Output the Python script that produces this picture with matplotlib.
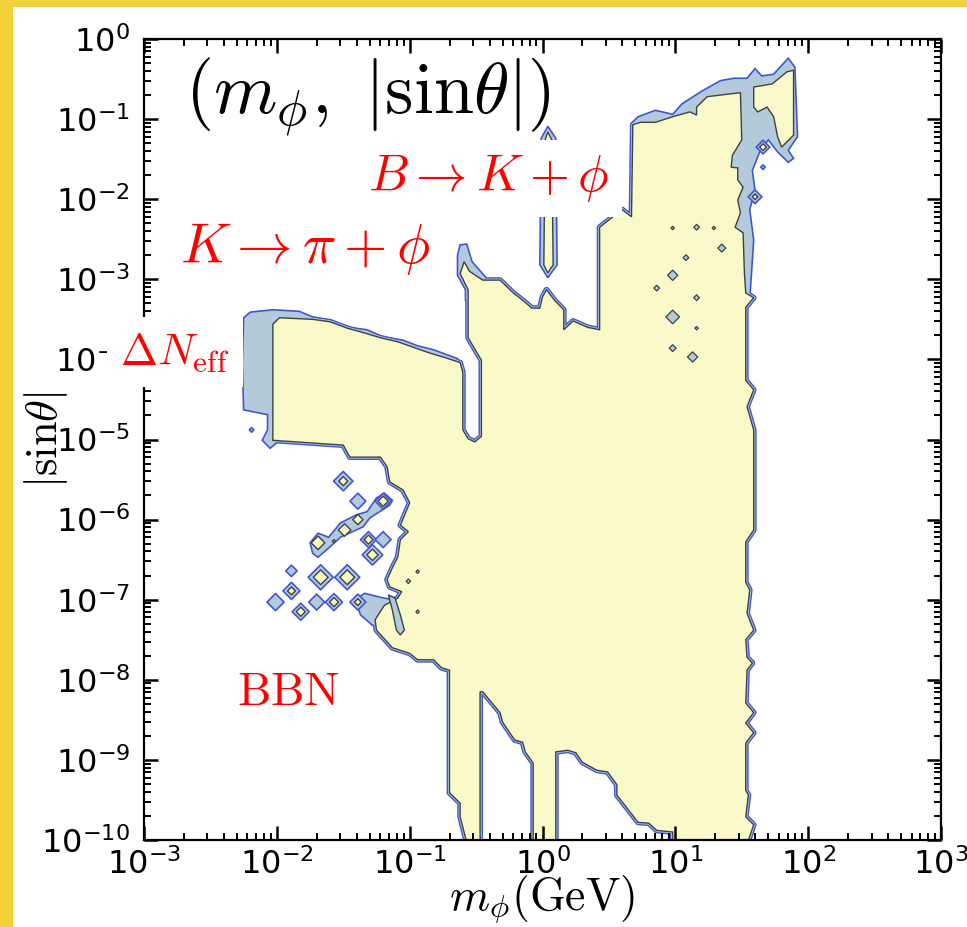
import numpy as np
import matplotlib.pyplot as plt
from matplotlib.patches import Rectangle
from matplotlib.transforms import blended_transform_factory
from matplotlib.ticker import FixedLocator, NullLocator, LogFormatterSciNotation

plt.rcParams["axes.unicode_minus"] = False

# colours
BORDER = "#F3D33C"
FILL_IN = "#FAF9C9"
FILL_OUT = "#B3CADB"
LINE_OUT = "#3F57D6"
LINE_IN = "#3C4242"
RED = "#FF0000"

# -----------------------------
# allowed region (inner contour), log10 values
# -----------------------------
main_lm = [-2.03, -1.98, -1.73, -1.60, -1.47, -1.34, -1.22, -1.09, -0.97, -0.85,
           -0.73, -0.62, -0.60, -0.60, -0.56, -0.51, -0.46, -0.46, -0.56, -0.56,
           -0.62, -0.59, -0.55, -0.45, -0.32, -0.22, -0.15, -0.08, -0.02, 0.00,
           0.03, 0.09, 0.16, 0.16, 0.23, 0.34, 0.43, 0.43, 0.53, 0.60,
           0.67, 0.68, 0.74, 0.85, 0.98, 1.11, 1.16, 1.16, 1.24, 1.34,
           1.49, 1.50, 1.43, 1.42, 1.47, 1.47, 1.51, 1.47, 1.49, 1.45,
           1.51, 1.52, 1.53, 1.59, 1.53, 1.53, 1.59, 1.54, 1.59, 1.59,
           1.53, 1.53, 1.56, 1.54, 1.59, 1.53, 1.54, 1.58, 1.54, 1.53,
           1.59, 1.53, 1.59, 1.53, 1.53, 1.55, 1.53, 1.59, 1.53, 0.98,
           0.98, 0.86, 0.80, 0.72, 0.56, 0.56, 0.49, 0.41, 0.30, 0.25,
           0.19, 0.10, 0.10, -0.07, -0.07, -0.13, -0.15, -0.21, -0.30, -0.32,
           -0.45, -0.47, -0.47, -0.56, -0.62, -0.62, -0.70, -0.70, -0.76, -0.82,
           -0.94, -1.00, -1.13, -1.25, -1.26, -1.19, -1.09, -1.06, -1.15, -1.17,
           -1.13, -1.09, -1.07, -1.01, -1.07, -1.00, -1.05, -1.15, -1.17, -1.22,
           -1.45, -1.50, -2.03]
main_ls = [-3.56, -3.48, -3.50, -3.53, -3.61, -3.67, -3.73, -3.78, -3.85, -3.92,
           -3.98, -4.04, -4.16, -4.88, -4.99, -5.03, -4.96, -4.01, -3.73, -3.13,
           -2.93, -2.78, -2.90, -3.01, -3.01, -3.17, -3.26, -3.36, -3.36, -3.22,
           -3.13, -3.26, -3.38, -3.63, -3.52, -3.60, -3.63, -2.35, -2.22, -2.13,
           -2.22, -1.07, -1.04, -1.04, -0.97, -0.91, -0.95, -0.85, -0.72, -0.70,
           -0.67, -1.26, -1.45, -1.60, -1.61, -1.76, -1.85, -2.01, -2.17, -2.35,
           -2.42, -2.92, -3.17, -3.23, -3.35, -4.26, -4.38, -4.59, -4.88, -6.13,
           -6.28, -6.78, -6.88, -7.17, -7.38, -7.50, -7.72, -7.79, -7.88, -8.29,
           -8.41, -8.54, -8.66, -8.79, -9.38, -9.44, -9.71, -9.81, -10.1, -10.1,
           -9.90, -9.88, -9.79, -9.78, -9.44, -9.31, -9.15, -9.13, -9.03, -8.91,
           -8.88, -8.90, -10.1, -10.1, -9.04, -8.90, -8.78, -8.75, -8.53, -8.41,
           -8.15, -8.15, -10.1, -10.1, -9.71, -9.54, -9.41, -7.88, -7.85, -7.75,
           -7.75, -7.67, -7.60, -7.38, -7.25, -7.07, -6.98, -6.90, -6.84, -6.75,
           -6.60, -6.47, -6.25, -6.15, -6.07, -5.79, -5.63, -5.53, -5.34, -5.22,
           -5.22, -5.07, -5.01]

# wider bands of the outer contour
band_dn_lm = [-2.25, -2.20, -2.03, -1.83, -1.73, -1.60, -1.46, -1.32, -1.20, -1.05,
              -0.94, -0.82, -0.64, -0.66, -1.83, -1.98, -2.05, -2.11, -2.07, -2.07,
              -2.25, -2.26]
band_dn_ls = [-3.48, -3.41, -3.38, -3.40, -3.47, -3.51, -3.60, -3.63, -3.72, -3.76,
              -3.83, -3.88, -3.99, -4.26, -4.26, -5.01, -5.11, -5.01, -4.88, -4.69,
              -4.63, -4.04]

band_top_lm = [0.67, 0.72, 0.85, 0.98, 1.05, 1.20, 1.34, 1.44, 1.54, 1.60,
               1.65, 1.74, 1.85, 1.90, 1.92, 1.85, 1.89, 1.85, 1.77, 1.70,
               1.64, 1.58, 1.60, 1.56, 1.59, 1.56, 1.19, 0.74]
band_top_ls = [-1.05, -0.97, -0.89, -0.94, -0.81, -0.65, -0.52, -0.49, -0.49, -0.37,
               -0.46, -0.44, -0.24, -0.35, -1.22, -1.39, -1.49, -1.54, -1.41, -1.26,
               -1.39, -1.64, -1.89, -2.13, -2.51, -3.26, -3.26, -2.01]

band_kpi_lm = [-0.64, -0.62, -0.57, -0.53, -0.43, -0.39, -0.58, -0.58, -0.64]
band_kpi_ls = [-2.70, -2.57, -2.56, -2.78, -2.97, -3.26, -3.26, -3.13, -2.95]

band_bbn_lm = [-1.41, -1.34, -1.22, -1.13, -1.07, -1.19, -1.28, -1.37]
band_bbn_ls = [-7.00, -6.92, -6.97, -7.00, -7.13, -7.32, -7.32, -7.19]

chain_lm = [-1.75, -1.69, -1.61, -1.52, -1.40, -1.32, -1.25, -1.19, -1.13, -1.15,
            -1.30, -1.35, -1.52, -1.62, -1.69, -1.73]
chain_ls = [-6.29, -6.17, -6.22, -6.04, -5.94, -5.90, -5.73, -5.67, -5.76, -5.82,
            -5.98, -6.09, -6.22, -6.37, -6.47, -6.42]

# top-right lobe near 50-80 GeV
lobe_lm = [1.59, 1.73, 1.84, 1.89, 1.89, 1.80, 1.77, 1.74, 1.69, 1.62, 1.59]
lobe_ls = [-0.60, -0.56, -0.41, -0.39, -1.20, -1.35, -1.22, -0.97, -0.85, -0.91, -0.85]

# thin strip around 1 GeV (behind the B -> K label)
strip_out_lm = [-0.01, 0.04, 0.10, 0.11, 0.04, -0.02]
strip_out_ls = [-1.24, -1.09, -1.24, -2.82, -2.98, -2.82]
strip_in_lm = [0.02, 0.04, 0.07, 0.08, 0.04, 0.01]
strip_in_ls = [-1.26, -1.16, -1.26, -2.82, -2.92, -2.82]

# excluded tongue inside the allowed region
tongue_lm = [-1.16, -1.11, -1.07, -1.04, -1.07, -1.10, -1.13]
tongue_ls = [-6.94, -6.98, -7.19, -7.38, -7.44, -7.38, -7.13]

# isolated islands of the outer / inner contour
isl_lm = [-1.50, -1.39, -1.20, -1.39, -1.49, -1.69, -1.31, -1.20, -1.28, -1.67,
          -1.47, -1.89, -1.89, -2.01, -1.82, -1.70, -1.57, -1.39, -2.19, 1.60,
          1.66, 1.66]
isl_ls = [-5.52, -5.77, -5.77, -6.00, -6.13, -6.29, -6.25, -6.25, -6.44, -6.72,
          -6.72, -6.64, -6.89, -7.03, -7.15, -7.03, -7.03, -7.03, -4.88, -1.97,
          -1.35, -1.60]
isl_out_px = [17, 14, 14, 0, 0, 0, 14, 14, 18, 22, 22, 10, 15, 15, 15, 14, 15, 14, 4, 12, 12, 4]
isl_in_px = [8, 0, 9, 9, 11, 12, 8, 0, 10, 13, 13, 0, 7, 0, 8, 0, 8, 6, 0, 5, 6, 0]

# small holes inside the allowed region
hole_lm = [0.98, 1.16, 1.29, 1.35, 1.08, 0.98, 0.86, 1.16, 0.98, 1.16, 0.98, 1.13,
           -0.94, -1.01, -0.94, -1.57]
hole_ls = [-2.36, -2.35, -2.36, -2.61, -2.73, -2.95, -3.11, -3.23, -3.47, -3.61,
           -3.86, -3.97, -6.65, -6.77, -7.15, -6.27]
hole_px = [3, 5, 3, 7, 5, 9, 5, 5, 12, 3, 6, 9, 3, 4, 3, 3]

# axis decades
x_decades = [-3, -2, -1, 0, 1, 2, 3]
y_decades = [-10, -9, -8, -7, -6, -5, -4, -3, -2, -1, 0]


def lin(v):
    return 10.0 ** np.asarray(v, dtype=float)


def diam(px):
    # pixel width of a diamond -> scatter size (points^2) at dpi 100
    return (np.asarray(px, dtype=float) * 0.58) ** 2


def log_ticks(decades):
    locs = []
    for d in decades[:-1]:
        locs += [k * 10.0 ** d for k in range(1, 10)]
    return locs + [10.0 ** decades[-1]]


def is_decade(loc):
    lg = np.log10(loc)
    return abs(lg - round(lg)) < 1e-6


fig = plt.figure(figsize=(9.67, 9.27), dpi=100, facecolor="white")
# yellow slide border on the left and top
fig.patches.append(Rectangle((0, 0), 13 / 967, 1, transform=fig.transFigure,
                             facecolor=BORDER, edgecolor="none", zorder=-10))
fig.patches.append(Rectangle((0, 1 - 7 / 927), 1, 7 / 927, transform=fig.transFigure,
                             facecolor=BORDER, edgecolor="none", zorder=-10))
ax = fig.add_axes([144 / 967, 1 - 840 / 927, 797 / 967, 801 / 927])
ax.set_xscale("log")
ax.set_yscale("log")

# outer band drawn as a wide stroke under the inner region
ax.fill(lin(main_lm), lin(main_ls), facecolor=FILL_OUT, edgecolor=LINE_OUT,
        lw=4.2, joinstyle="round", zorder=2)
for bx, by in [(band_dn_lm, band_dn_ls), (band_top_lm, band_top_ls),
               (band_kpi_lm, band_kpi_ls), (band_bbn_lm, band_bbn_ls),
               (chain_lm, chain_ls), (strip_out_lm, strip_out_ls)]:
    ax.fill(lin(bx), lin(by), facecolor=FILL_OUT, edgecolor=LINE_OUT, lw=1.2, zorder=2.5)
ax.fill(lin(main_lm), lin(main_ls), facecolor=FILL_IN, edgecolor=FILL_OUT,
        lw=2.2, joinstyle="round", zorder=2.8)
ax.fill(lin(main_lm), lin(main_ls), facecolor=FILL_IN, edgecolor=LINE_IN, lw=1.0, zorder=3)
ax.fill(lin(lobe_lm), lin(lobe_ls), facecolor=FILL_IN, edgecolor=LINE_IN, lw=1.0, zorder=3)
ax.fill(lin(strip_in_lm), lin(strip_in_ls), facecolor=FILL_IN, edgecolor=LINE_IN, lw=1.0, zorder=3)
ax.fill(lin(tongue_lm), lin(tongue_ls), facecolor=FILL_OUT, edgecolor=LINE_IN, lw=1.0, zorder=4)

out_mask = np.array(isl_out_px) > 0
in_mask = np.array(isl_in_px) > 0
ax.scatter(lin(isl_lm)[out_mask], lin(isl_ls)[out_mask], s=diam(isl_out_px)[out_mask],
           marker="D", facecolor=FILL_OUT, edgecolor=LINE_OUT, lw=1.2, zorder=3.5)
ax.scatter(lin(isl_lm)[in_mask], lin(isl_ls)[in_mask], s=diam(isl_in_px)[in_mask],
           marker="D", facecolor=FILL_IN, edgecolor=LINE_IN, lw=1.0, zorder=3.6)
ax.scatter(lin(hole_lm), lin(hole_ls), s=diam(hole_px), marker="D",
           facecolor=FILL_OUT, edgecolor=LINE_IN, lw=0.9, zorder=4)

ax.set_xlim(1e-3, 1e3)
ax.set_ylim(1e-10, 1)

# tick labels on the decades; tick marks are drawn below as short lines
ax.xaxis.set_major_locator(FixedLocator([10.0 ** d for d in x_decades]))
ax.yaxis.set_major_locator(FixedLocator([10.0 ** d for d in y_decades]))
ax.xaxis.set_major_formatter(LogFormatterSciNotation())
ax.yaxis.set_major_formatter(LogFormatterSciNotation())
ax.xaxis.set_minor_locator(NullLocator())
ax.yaxis.set_minor_locator(NullLocator())
ax.tick_params(which="major", direction="in", length=0, labelsize=23)
ax.tick_params(axis="y", which="major", pad=10)
ax.tick_params(axis="x", which="major", pad=6)
for sp in ax.spines.values():
    sp.set_linewidth(1.6)
    sp.set_zorder(5)

tx = blended_transform_factory(ax.transData, ax.transAxes)
ty = blended_transform_factory(ax.transAxes, ax.transData)
for loc in log_ticks(x_decades):
    big = is_decade(loc)
    h = 14 / 801 if big else 7 / 801
    w = 1.8 if big else 1.4
    for y0, y1 in [(0, h), (1, 1 - h)]:
        ax.plot([loc, loc], [y0, y1], transform=tx, color="black", lw=w,
                solid_capstyle="butt", clip_on=False, zorder=5)
for loc in log_ticks(y_decades):
    big = is_decade(loc)
    h = 14 / 797 if big else 7 / 797
    w = 1.8 if big else 1.4
    for x0, x1 in [(0, h), (1, 1 - h)]:
        ax.plot([x0, x1], [loc, loc], transform=ty, color="black", lw=w,
                solid_capstyle="butt", clip_on=False, zorder=5)

ax.set_xlabel(r"$m_{\phi}({\rm GeV})$", fontsize=33, math_fontfamily="cm")
ax.set_ylabel(r"$|{\rm sin}\theta|$", fontsize=32, math_fontfamily="cm")
ax.xaxis.set_label_coords(0.5, -0.042)
ax.yaxis.set_label_coords(-0.093, 0.5)

# annotations
ax.text(0.051, 0.928, r"$(m_{\phi},\ |{\rm sin}\theta|)$", transform=ax.transAxes,
        fontsize=52, ha="left", va="center", math_fontfamily="cm", zorder=10)
ax.text(0.281, 0.826, r"$B\rightarrow K+\phi$", transform=ax.transAxes, color=RED,
        fontsize=37, ha="left", va="center", math_fontfamily="cm", zorder=10,
        bbox=dict(boxstyle="square,pad=0.25", facecolor="white", edgecolor="none"))
ax.text(0.045, 0.738, r"$K\rightarrow\pi+\phi$", transform=ax.transAxes, color=RED,
        fontsize=40, ha="left", va="center", math_fontfamily="cm", zorder=10)
ax.text(-0.030, 0.609, r"$\Delta N_{\rm eff}$", transform=ax.transAxes, color=RED,
        fontsize=32, ha="left", va="center", math_fontfamily="cm", zorder=10,
        bbox=dict(boxstyle="square,pad=0.3", facecolor="white", edgecolor="none"))
ax.text(0.117, 0.184, r"$\mathrm{BBN}$", transform=ax.transAxes, color=RED,
        fontsize=34, ha="left", va="center", math_fontfamily="cm", zorder=10)

fig.savefig("out.png", dpi=100)
